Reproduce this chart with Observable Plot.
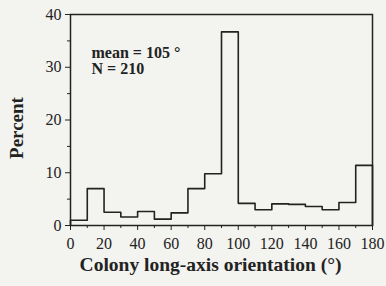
<!DOCTYPE html>
<html><head><meta charset="utf-8">
<script src="https://cdn.jsdelivr.net/npm/d3@7"></script>
<script src="https://cdn.jsdelivr.net/npm/@observablehq/plot@0.6"></script>
<style>
body{margin:0;background:#f3f3ef;}
svg{background:#f3f3ef;}
</style></head><body>
<div id="chart"></div>
<script>
const binStarts = [0,10,20,30,40,50,60,70,80,90,100,110,120,130,140,150,160,170];
const binWidth = 10;
const percent = [1.0,7.0,2.5,1.6,2.65,1.2,2.4,7.0,9.8,36.7,4.2,3.0,4.1,4.0,3.6,3.0,4.35,11.4];
const xTicks = [0,20,40,60,80,100,120,140,160,180];
const xMinor = [10,30,50,70,90,110,130,150,170];
const yTicks = [0,10,20,30,40];
const yMinor = [5,15,25,35];
const annotation = ["mean = 105 °", "N = 210"];

const pts = [{x: binStarts[0], y: 0}];
binStarts.forEach((s, i) => pts.push({x: s, y: percent[i]}));
const lastX = binStarts[binStarts.length-1] + binWidth;
pts.push({x: lastX, y: percent[percent.length-1]});
pts.push({x: lastX, y: 0});

const font = "Liberation Serif, Times New Roman, serif";
const ink = "#222";

const chart = Plot.plot({
  width: 386, height: 286,
  marginLeft: 70, marginRight: 14, marginTop: 14, marginBottom: 61,
  style: {fontFamily: font, background: "#f3f3ef", color: ink},
  x: {domain: [0,180]},
  y: {domain: [0,40]},
  marks: [
    Plot.frame({stroke: ink, strokeWidth: 1.5}),
    Plot.axisX({ticks: xTicks, tickSize: 5, tickPadding: 7, fontSize: 16, label: null, stroke: ink}),
    Plot.axisX({ticks: xMinor, tickSize: 3, text: null, label: null, stroke: ink}),
    Plot.axisY({ticks: yTicks, tickSize: 5, tickPadding: 4, fontSize: 16, label: null, stroke: ink}),
    Plot.axisY({ticks: yMinor, tickSize: 3, text: null, label: null, stroke: ink}),
    Plot.line(pts, {x: "x", y: "y", curve: "step-after", stroke: ink, strokeWidth: 1.6}),
    Plot.text([annotation.join("\n")], {frameAnchor: "top-left", dx: 21, dy: 32, textAnchor: "start", lineAnchor: "top", fontSize: 16, fontWeight: "bold", fill: ink, lineHeight: 1.0}),
    Plot.text(["Colony long-axis orientation (°)"], {frameAnchor: "bottom", dx: -11, dy: 45, fontSize: 19.5, fontWeight: "bold", fill: ink}),
    Plot.text(["Percent"], {frameAnchor: "left", textAnchor: "middle", lineAnchor: "middle", dx: -54, dy: 8, rotate: -90, fontSize: 19, fontWeight: "bold", fill: ink})
  ]
});
document.getElementById("chart").append(chart);
</script>
</body></html>
